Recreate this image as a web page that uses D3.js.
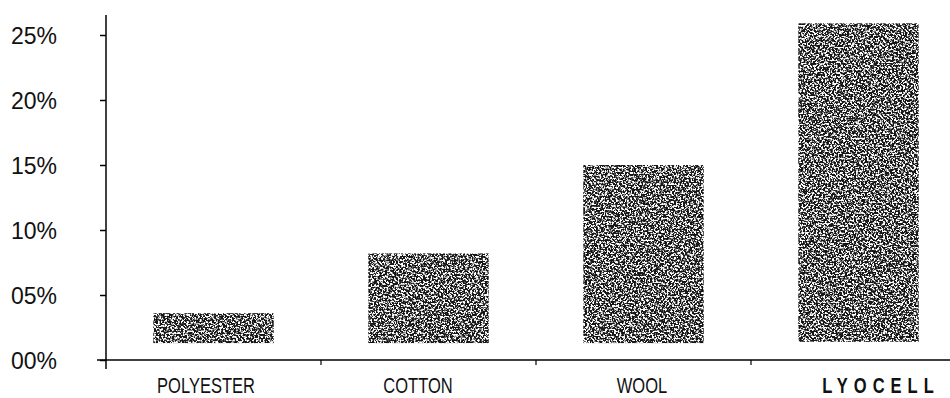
<!DOCTYPE html>
<html>
<head>
<meta charset="utf-8">
<script src="https://cdn.jsdelivr.net/npm/d3@7"></script>
<style>
  body { margin: 0; background: #fff; }
  svg { display: block; }
</style>
</head>
<body>
<svg id="chart" width="950" height="398"></svg>
<script>
// fibres and the share (bars float on a small base)
var fibres = ["POLYESTER", "COTTON", "WOOL", "LYOCELL"];
var topValues = [3.6, 8.2, 15.0, 25.9];
var baseValues = [1.3, 1.3, 1.3, 1.4];
var yTicks = [0, 5, 10, 15, 20, 25];

var svg = d3.select("#chart");

// speckled print look for the bars
var defs = svg.append("defs");
var grain = defs.append("filter")
    .attr("id", "grain")
    .attr("x", "-3%").attr("y", "-3%")
    .attr("width", "106%").attr("height", "106%");
grain.append("feTurbulence")
    .attr("type", "fractalNoise")
    .attr("baseFrequency", "0.55")
    .attr("numOctaves", 3)
    .attr("seed", 7)
    .attr("result", "noise");
grain.append("feColorMatrix")
    .attr("in", "noise")
    .attr("type", "matrix")
    .attr("values", "0 0 0 0 0  0 0 0 0 0  0 0 0 0 0  7 0 0 0 -2.8")
    .attr("result", "mask");
grain.append("feComposite")
    .attr("in", "SourceGraphic")
    .attr("in2", "mask")
    .attr("operator", "in");

var x = d3.scaleBand()
    .domain(fibres)
    .range([106, 966])
    .paddingInner(0.44)
    .paddingOuter(0.22);

var y = d3.scaleLinear()
    .domain([0, 25])
    .range([360, 35]);

// bars
svg.append("g")
  .selectAll("rect")
  .data(fibres)
  .enter().append("rect")
    .attr("x", function(d) { return x(d); })
    .attr("width", x.bandwidth())
    .attr("y", function(d, i) { return y(topValues[i]); })
    .attr("height", function(d, i) { return y(baseValues[i]) - y(topValues[i]); })
    .attr("fill", "#151515")
    .attr("filter", "url(#grain)");

// y axis
var yAxis = svg.append("g")
    .attr("transform", "translate(106,0)")
    .call(d3.axisLeft(y)
      .tickValues(yTicks)
      .tickSize(6)
      .tickPadding(43)
      .tickFormat(function(d) { return (d < 10 ? "0" : "") + d + "%"; }));
yAxis.select(".domain").remove();
yAxis.selectAll("line").attr("stroke", "#000").attr("stroke-width", 1.5);
yAxis.selectAll("text")
    .style("font-family", "'Liberation Sans', Arial, sans-serif")
    .style("font-size", "23px")
    .style("fill", "#111")
    .attr("dy", "0.36em");

svg.append("line")
    .attr("x1", 106).attr("x2", 106)
    .attr("y1", 15).attr("y2", 369)
    .attr("stroke", "#000").attr("stroke-width", 1.5);

// x axis, labels squeezed to look like the narrow print face
var xAxis = svg.append("g")
    .attr("transform", "translate(0,360)")
    .call(d3.axisBottom(x).tickSize(0).tickPadding(0));
xAxis.select(".domain").remove();
var shift = { "POLYESTER": -10, "COTTON": -14, "WOOL": -2, "LYOCELL": 30 };
xAxis.selectAll("text")
    .attr("dy", 33.5)
    .attr("transform", "scale(0.75,1)")
    .attr("dx", function(d) { return shift[d]; })
    .style("font-family", "'Liberation Sans', Arial, sans-serif")
    .style("font-size", "22px")
    .style("fill", "#111")
    .style("font-weight", function(d) { return d === "LYOCELL" ? "bold" : "normal"; })
    .style("letter-spacing", function(d) { return d === "LYOCELL" ? "8px" : "0px"; });

svg.append("line")
    .attr("x1", 97).attr("x2", 950)
    .attr("y1", 360).attr("y2", 360)
    .attr("stroke", "#000").attr("stroke-width", 1.5);

// small ticks between categories
svg.append("g")
  .selectAll("line")
  .data(fibres.slice(1))
  .enter().append("line")
    .attr("x1", function(d) { return x(d) - x.step() * x.paddingInner() / 2; })
    .attr("x2", function(d) { return x(d) - x.step() * x.paddingInner() / 2; })
    .attr("y1", 360).attr("y2", 365)
    .attr("stroke", "#000").attr("stroke-width", 1.2);
</script>
</body>
</html>
